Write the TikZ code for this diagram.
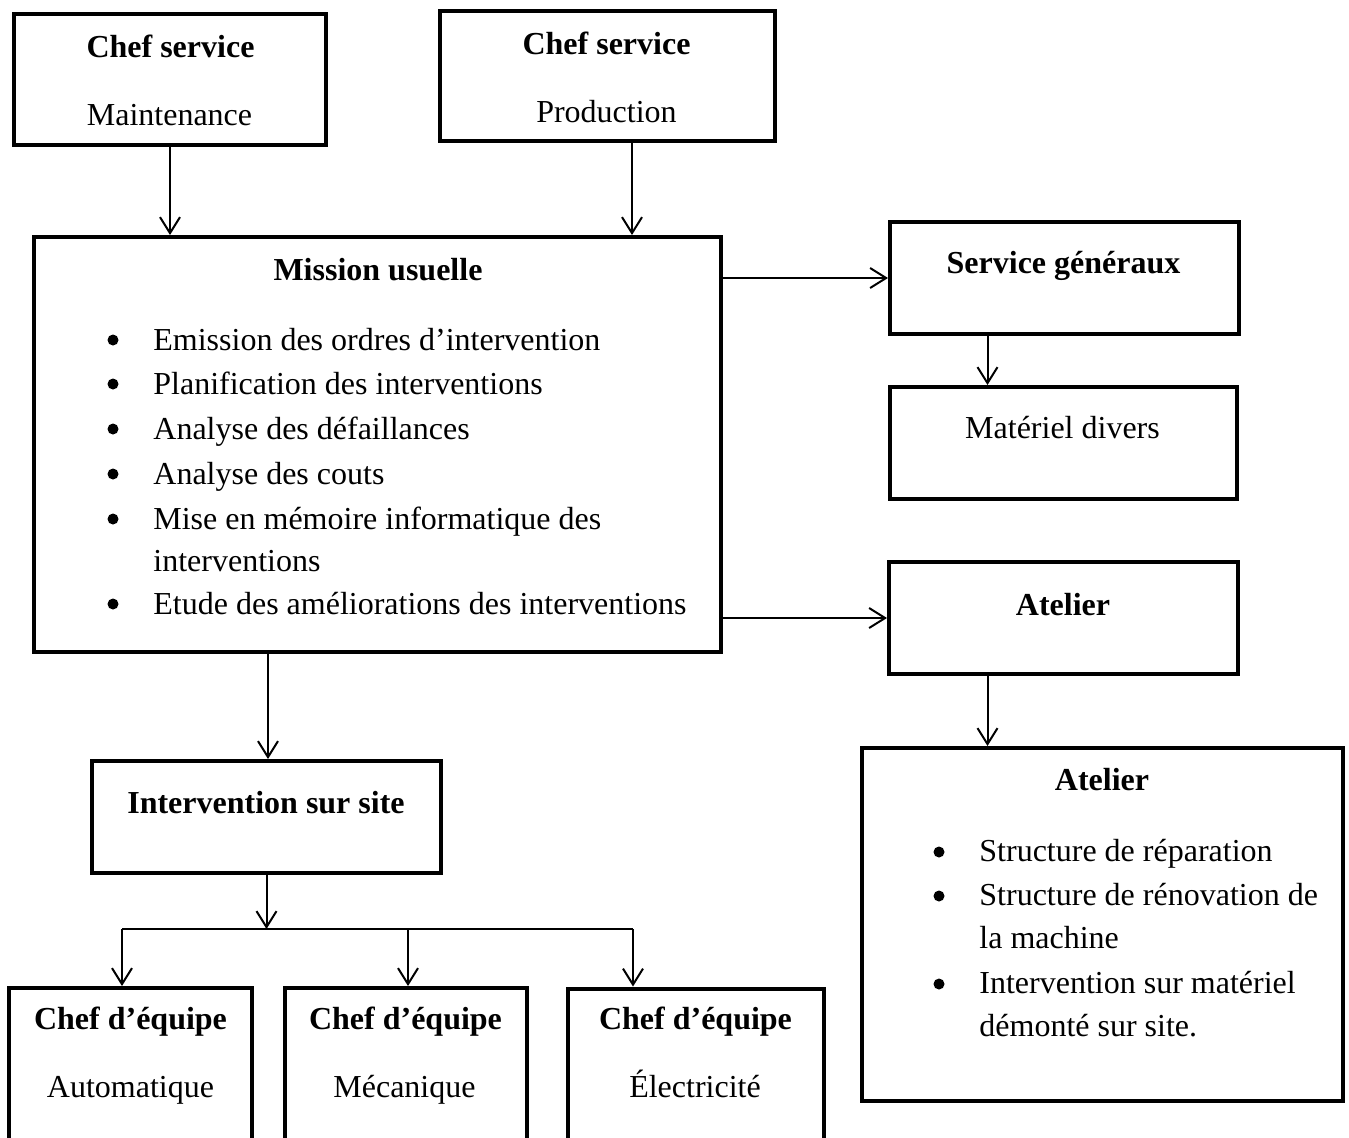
\documentclass[tikz,border=0pt]{standalone}
\usepackage{fontspec}
\setmainfont{Liberation Serif}
\usetikzlibrary{arrows.meta}
\begin{document}
\begin{tikzpicture}[x=0.5pt,y=-0.5pt,
  boxst/.style={draw, line width=2pt, inner sep=0pt, rectangle},
  arr/.style={line width=1pt, -{Straight Barb[length=8pt,width=10pt,line width=1pt]}},
  link/.style={line width=1pt},
  hd/.style={font=\fontsize{16}{19}\selectfont\bfseries, anchor=base, inner sep=0pt},
  tx/.style={font=\fontsize{16}{19}\selectfont, anchor=base, inner sep=0pt},
  li/.style={font=\fontsize{16}{19}\selectfont, anchor=base west, inner sep=0pt},
  bul/.style={circle, fill, inner sep=0pt, minimum size=5.5pt}]
\useasboundingbox (0,0) rectangle (1349,1137);
\clip (0,0) rectangle (1349,1137);

% boxes
\node[boxst, minimum width=156pt, minimum height=65.5pt] (cm) at (170,79.5) {};
\node[boxst, minimum width=167.5pt, minimum height=65pt] (cp) at (607.5,76) {};
\node[boxst, minimum width=343.5pt, minimum height=207.5pt] (mu) at (377.5,444.5) {};
\node[boxst, minimum width=174.5pt, minimum height=56pt] (sg) at (1064.5,278) {};
\node[boxst, minimum width=173.5pt, minimum height=56pt] (md) at (1063.5,443) {};
\node[boxst, minimum width=174.5pt, minimum height=56pt] (at) at (1063.5,618) {};
\node[boxst, minimum width=240.5pt, minimum height=176.5pt] (ad) at (1102.5,924.5) {};
\node[boxst, minimum width=174.5pt, minimum height=56pt] (is) at (266.5,817) {};
\node[boxst, minimum width=121.5pt, minimum height=96pt] (ea) at (130.5,1084) {};
\node[boxst, minimum width=121pt, minimum height=96pt] (eb) at (406,1084) {};
\node[boxst, minimum width=128pt, minimum height=96pt] (ec) at (696,1084.5) {};

% texts
\node[hd] (t1) at (170.5,57) {Chef service};
\node[tx] (t2) at (169.5,125) {Maintenance};
\node[hd] (t3) at (606.5,54) {Chef service};
\node[tx] (t4) at (606.5,122) {Production};
\node[hd] (t5) at (378,280) {Mission usuelle};
\foreach \y/\s in {350/Emission des ordres d’intervention,
                   394/Planification des interventions,
                   439/Analyse des défaillances,
                   484/Analyse des couts,
                   529/Mise en mémoire informatique des,
                   614/Etude des améliorations des interventions}
  \node[li] at (153,\y) {\s};
\node[li] at (153,571) {interventions};
\foreach \y in {340,384,429,474,519,604}
  \node[bul] at (113,\y) {};
\node[hd] (t6) at (1063.5,273) {Service généraux};
\node[tx] (t7) at (1062.5,438) {Matériel divers};
\node[hd] (t8) at (1063,615) {Atelier};
\node[hd] (t9) at (1102,790) {Atelier};
\foreach \y/\s in {861/Structure de réparation,
                   905/Structure de rénovation de,
                   948/la machine,
                   993/Intervention sur matériel,
                   1036/démonté sur site.}
  \node[li] at (979,\y) {\s};
\foreach \y in {852,896,984}
  \node[bul] at (939,\y) {};
\node[hd] (t10) at (266,813) {Intervention sur site};
\node[hd] (t11) at (130.5,1029) {Chef d’équipe};
\node[tx] (t12) at (130.5,1097) {Automatique};
\node[hd] (t13) at (405.5,1029) {Chef d’équipe};
\node[tx] (t14) at (404.5,1097) {Mécanique};
\node[hd] (t15) at (695.5,1029) {Chef d’équipe};
\node[tx] (t16) at (695,1097) {Électricité};

% connectors
\coordinate (cpo) at ([xshift=12.25pt]cp.south);
\coordinate (xs) at (987.5,300);
\coordinate (xm) at (268,700);
\coordinate (bl) at (122,929);
\coordinate (bm) at (408,929);
\coordinate (br) at (633,929);

\draw[arr] (cm.south) -- (cm.south |- mu.north);
\draw[arr] (cpo) -- (cpo |- mu.north);
\draw[arr] (mu.east |- sg.west) -- (sg.west);
\draw[arr] (xs |- sg.south) -- (xs |- md.north);
\draw[arr] (mu.east |- at.west) -- (at.west);
\draw[arr] (xs |- at.south) -- (xs |- ad.north);
\draw[arr] (xm |- mu.south) -- (xm |- is.north);
\draw[arr] (is.south) -- (is.south |- bl);
\draw[link] (bl) -- (br);
\draw[arr] (bl) -- (bl |- ea.north);
\draw[arr] (bm) -- (bm |- eb.north);
\draw[arr] (br) -- (br |- ec.north);
\end{tikzpicture}
\end{document}
